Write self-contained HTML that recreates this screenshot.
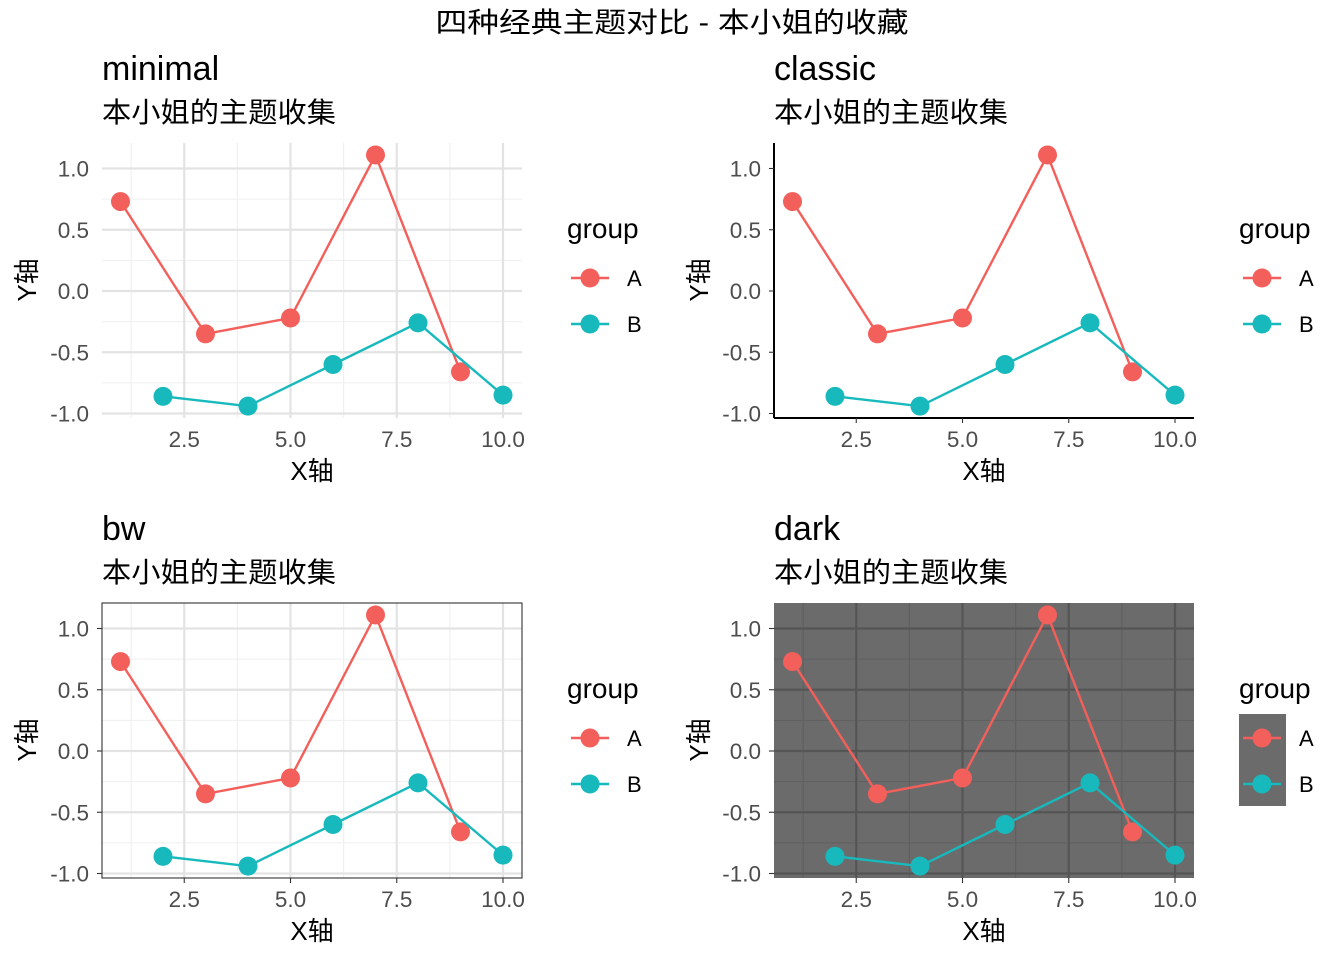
<!DOCTYPE html>
<html><head><meta charset="utf-8"><style>
body{margin:0;background:#fff}
svg text{font-family:"Liberation Sans","Noto Sans CJK SC",sans-serif}
</style></head><body>
<svg id="c" width="1344" height="960" xmlns="http://www.w3.org/2000/svg">
<text x="672" y="32" text-anchor="middle" font-size="28" textLength="473" lengthAdjust="spacingAndGlyphs" fill="#000">四种经典主题对比 - 本小姐的收藏</text>
</svg>
<script>
const xsA=[1,3,5,7,9];
const ysA=[0.73,-0.35,-0.22,1.11,-0.66];
const xsB=[2,4,6,8,10];
const ysB=[-0.86,-0.94,-0.60,-0.26,-0.85];
const xTicks=[2.5,5.0,7.5,10.0];
const xTickLabels=["2.5","5.0","7.5","10.0"];
const yTicks=[1.0,0.5,0.0,-0.5,-1.0];
const yTickLabels=["1.0","0.5","0.0","-0.5","-1.0"];
const xMinor=[1.25,3.75,6.25,8.75];
const yMinor=[0.75,0.25,-0.25,-0.75];
const panelNames=["minimal","classic","bw","dark"];

const svg=document.getElementById('c');
const NS="http://www.w3.org/2000/svg";
function el(tag,attrs,parent){const e=document.createElementNS(NS,tag);for(const k in attrs)e.setAttribute(k,attrs[k]);(parent||svg).appendChild(e);return e;}

panelNames.forEach((name,i)=>{
  const ox=(i%2)*672, oy=Math.floor(i/2)*460;
  const g=el('g',{});
  
  
  const L=102+ox,R=522+ox,T=143+oy,B=418+oy;
  const X=v=>L+18.5+(v-1)*42.5;
  const Y=v=>291+oy-v*122.5;
  if(name==='dark') el('rect',{x:L,y:T,width:R-L,height:B-T,fill:'#6b6b6b'},g);
  let majC='#e3e3e3',minC='#efefef',mw=2.2,nw=1.1;
  if(name==='dark'){majC='#555555';minC='#5f5f5f';}
  if(name!=='classic'){
    xMinor.forEach(v=>el('line',{x1:X(v),x2:X(v),y1:T,y2:B,stroke:minC,'stroke-width':nw},g));
    yMinor.forEach(v=>el('line',{x1:L,x2:R,y1:Y(v),y2:Y(v),stroke:minC,'stroke-width':nw},g));
    xTicks.forEach(v=>el('line',{x1:X(v),x2:X(v),y1:T,y2:B,stroke:majC,'stroke-width':mw},g));
    yTicks.forEach(v=>el('line',{x1:L,x2:R,y1:Y(v),y2:Y(v),stroke:majC,'stroke-width':mw},g));
  }
  if(name==='bw') el('rect',{x:L,y:T,width:R-L,height:B-T,fill:'none',stroke:'#333','stroke-width':1.1},g);
  if(name==='classic'){
    el('line',{x1:L,x2:L,y1:T,y2:B,stroke:'#000','stroke-width':2},g);
    el('line',{x1:L,x2:R,y1:B,y2:B,stroke:'#000','stroke-width':2},g);
  }
  xTicks.forEach((v,k)=>{
    if(name!=='minimal') el('line',{x1:X(v),x2:X(v),y1:B,y2:B+5,stroke:'#333','stroke-width':1.1},g);
    const t=el('text',{x:X(v),y:B+29,'text-anchor':'middle','font-size':22.5,fill:'#4d4d4d'},g);
    t.textContent=xTickLabels[k];
  });
  yTicks.forEach((v,k)=>{
    if(name!=='minimal') el('line',{x1:L-5,x2:L,y1:Y(v),y2:Y(v),stroke:'#333','stroke-width':1.1},g);
    const t=el('text',{x:L-13,y:Y(v)+8,'text-anchor':'end','font-size':22.5,fill:'#4d4d4d'},g);
    t.textContent=yTickLabels[k];
  });
  [[xsA,ysA,'#f35f5a','A'],[xsB,ysB,'#17b9bd','B']].forEach(([xs,ys,col,s])=>{
    const pl=el('polyline',{points:xs.map((x,j)=>X(x)+','+Y(ys[j])).join(' '),fill:'none',stroke:col,'stroke-width':2.4},g);
    
    
    xs.forEach((x,j)=>{
      const c=el('circle',{cx:X(x),cy:Y(ys[j]),r:9.5,fill:col},g);
      
      
    });
  });
  let t=el('text',{x:L,y:80+oy,'font-size':34,fill:'#000'},g);t.textContent=name;
  
  
  t=el('text',{x:L,y:122+oy,'font-size':28,fill:'#000',textLength:234,lengthAdjust:'spacingAndGlyphs'},g);t.textContent='本小姐的主题收集';
  
  
  t=el('text',{x:(L+R)/2,y:480+oy,'text-anchor':'middle','font-size':26,fill:'#000'},g);t.textContent='X轴';
  
  
  t=el('text',{x:0,y:0,'text-anchor':'middle','font-size':26,fill:'#000',transform:`translate(${36+ox},${280+oy}) rotate(-90)`},g);t.textContent='Y轴';
  
  
  const lg=el('g',{},g);
  
  
  t=el('text',{x:567+ox,y:238+oy,'font-size':28,fill:'#000'},lg);t.textContent='group';
  if(name==='dark') el('rect',{x:567+ox,y:254+oy,width:47,height:92,fill:'#6b6b6b'},lg);
  [['A','#f35f5a',278],['B','#17b9bd',324]].forEach(([s,col,yy])=>{
    el('line',{x1:571+ox,x2:609+ox,y1:yy+oy,y2:yy+oy,stroke:col,'stroke-width':2.4},lg);
    el('circle',{cx:590+ox,cy:yy+oy,r:9.5,fill:col},lg);
    const tt=el('text',{x:627+ox,y:yy+oy+8,'font-size':22,fill:'#000'},lg);tt.textContent=s;
    
    
  });
});
</script>
</body></html>
